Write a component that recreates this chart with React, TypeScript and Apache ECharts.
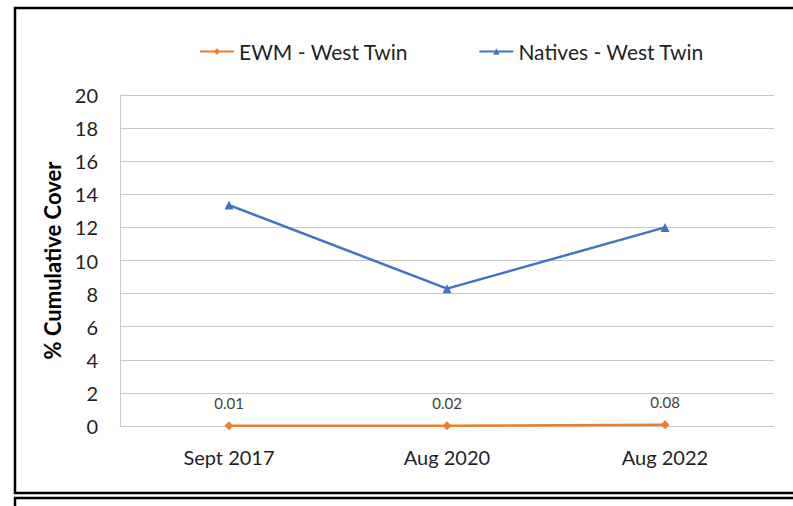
import React, { useEffect, useRef } from "react";
import * as echarts from "echarts";

const categories = ["Sept 2017", "Aug 2020", "Aug 2022"];
const ewmValues = [0.01, 0.02, 0.08];
const nativesValues = [13.35, 8.3, 12.0];
const seriesNames = ["EWM - West Twin", "Natives - West Twin"];
const yAxisTitle = "% Cumulative Cover";

export default function App() {
  const ref = useRef<HTMLDivElement>(null);
  useEffect(() => {
    if (!ref.current) return;
    const chart = echarts.init(ref.current, null, { renderer: "svg" });
    const font = "Lato, 'Open Sans', sans-serif";
    chart.setOption({
      animation: false,
      backgroundColor: "#ffffff",
      textStyle: { fontFamily: font },
      grid: { left: 120, right: 19, top: 95, bottom: 80, containLabel: false },
      legend: {
        top: 36,
        left: 194,
        itemGap: 70,
        itemWidth: 34,
        itemHeight: 8,
        textStyle: { fontSize: 21, color: "#1f1f1f", fontFamily: font },
        data: seriesNames,
      },
      xAxis: {
        type: "category",
        data: categories,
        boundaryGap: true,
        axisLine: { lineStyle: { color: "#c8c8c8", width: 1 } },
        axisTick: { show: false },
        axisLabel: { fontSize: 20, color: "#1f1f1f", margin: 21, fontFamily: font },
      },
      yAxis: {
        type: "value",
        min: 0,
        max: 20,
        interval: 2,
        name: yAxisTitle,
        nameLocation: "middle",
        nameGap: 57,
        nameTextStyle: { fontSize: 22, fontWeight: "bold", color: "#000000", fontFamily: font },
        axisLine: { show: true, lineStyle: { color: "#c8c8c8", width: 1 } },
        axisTick: { show: false },
        axisLabel: { fontSize: 20, color: "#1f1f1f", margin: 22, fontFamily: font },
        splitLine: { lineStyle: { color: "#c8c8c8", width: 1 } },
      },
      series: [
        {
          name: seriesNames[0],
          type: "line",
          data: ewmValues,
          symbol: "diamond",
          symbolSize: 9,
          itemStyle: { color: "#ED7D31" },
          lineStyle: { color: "#ED7D31", width: 2.5 },
          label: {
            show: true,
            position: "top",
            distance: 11,
            fontSize: 15,
            color: "#404040",
            fontFamily: font,
          },
          z: 3,
        },
        {
          name: seriesNames[1],
          type: "line",
          data: nativesValues,
          symbol: "triangle",
          symbolSize: 9,
          itemStyle: { color: "#4472C4" },
          lineStyle: { color: "#4472C4", width: 2.5 },
          z: 3,
        },
      ],
      graphic: [
        {
          type: "rect",
          shape: { x: 15, y: 8, width: 800, height: 485 },
          style: { fill: "none", stroke: "#000000", lineWidth: 2.5 },
          silent: true,
        },
        {
          type: "rect",
          shape: { x: 15, y: 498, width: 800, height: 40 },
          style: { fill: "none", stroke: "#000000", lineWidth: 2.5 },
          silent: true,
        },
      ],
    });
    return () => chart.dispose();
  }, []);
  return (
    <div
      ref={ref}
      style={{ position: "fixed", left: 0, top: 0, width: 793, height: 506 }}
    />
  );
}
